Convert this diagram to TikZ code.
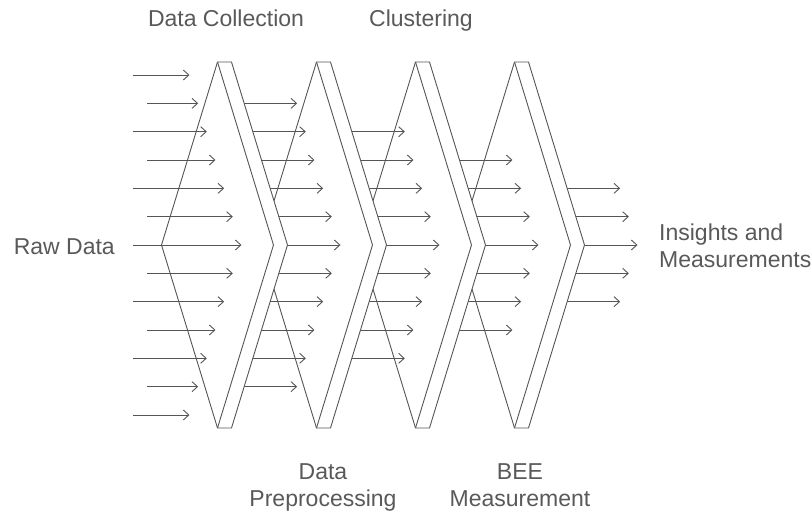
\documentclass[tikz,border=0pt]{standalone}
\usepackage{fontspec}
\setmainfont{Liberation Sans}
\usepackage{tikz}
\usetikzlibrary{arrows.meta}
\definecolor{linegray}{HTML}{555555}
\definecolor{textgray}{HTML}{595959}

% one panel, #1 = x of its top left corner
\newcommand{\panel}[1]{%
  \draw[panel, fill=white] (#1-56,245) -- (#1,62) -- (#1+14,62) -- (#1+70,245) -- (#1+14,428) -- (#1,428) -- cycle;
  \draw[panel] (#1,62) -- (#1+56,245) -- (#1,428);
}

\begin{document}
\begin{tikzpicture}[x=1pt, y=-1pt,
    panel/.style={draw=linegray, line width=0.9pt, line join=miter},
    flow/.style={draw=linegray, line width=0.9pt, -{Straight Barb[length=5.5pt, width=10pt]}},
    lbl/.style={text=textgray, inner sep=0pt, font=\fontsize{23}{26.5}\selectfont}]
		
		\useasboundingbox (0,0) rectangle (812,514);
		
		% Panels and arrows, from right to left
		\foreach \s in {4,3,2,1,0}{
			\pgfmathsetmacro\T{217.5+99*\s}
			\pgfmathtruncatemacro\last{12-\s}
			\foreach \r in {\s,...,\last}{
				\pgfmathsetmacro\y{245+28.33*(\r-6)}
				\pgfmathsetmacro\h{56*(1-abs(\y-245)/183)}
				\pgfmathsetmacro\tip{\T+\h-32}
				\pgfmathsetmacro\start{\s==0 ? (mod(\r,2)==0 ? 133 : 147) : \T-85+\h}
				\draw[flow] (\start,\y) -- (\tip,\y);
			}
			\ifnum\s>0 \pgfmathsetmacro\P{\T-99}\panel{\P}\fi
		}
		
		% Labels
		\node[lbl, anchor=base] (collect) at (226,27) {Data Collection};
		\node[lbl, anchor=base] (cluster) at (421,27) {Clustering};
		\node[lbl, anchor=base east] (raw) at (115,254) {Raw Data};
		\node[lbl, anchor=base, align=center] (prep) at (323,506) {Data\\Preprocessing};
		\node[lbl, anchor=base, align=center] (bee) at (520,506) {BEE\\Measurement};
		\node[lbl, anchor=base west, align=left] (insight) at (659,267) {Insights and\\Measurements};
		
	\end{tikzpicture}
\end{document}
